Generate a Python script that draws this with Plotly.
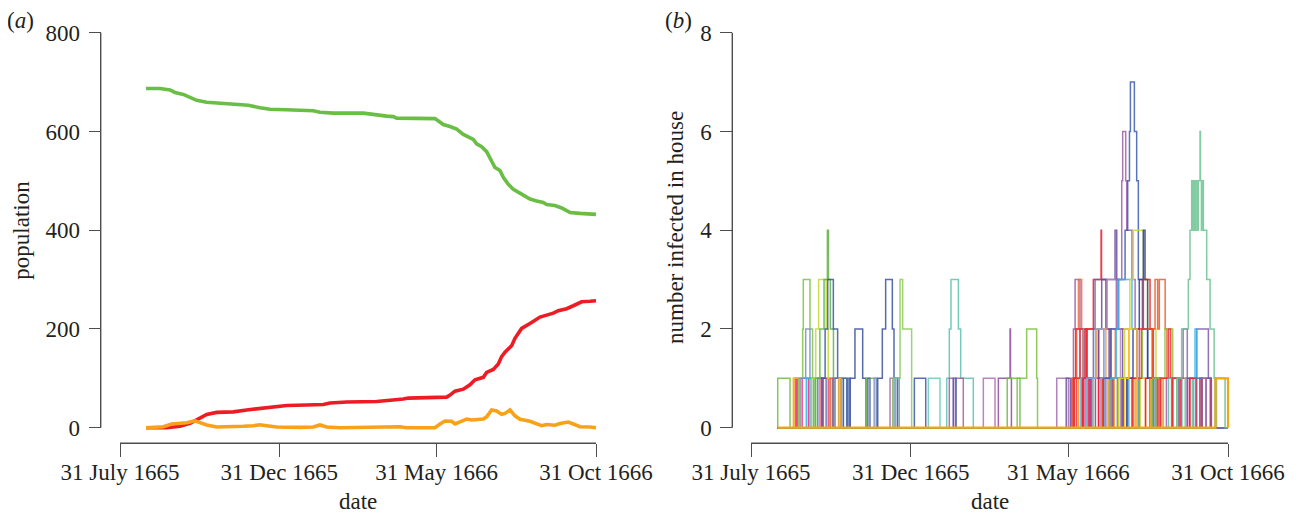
import datetime as dt
import plotly.graph_objects as go

# day 0 = 31 July 1665
ORIGIN = dt.datetime(1665, 7, 31)

tick_days = [0, 153, 304, 457]
tick_labels = ["31 July 1665", "31 Dec 1665", "31 May 1666", "31 Oct 1666"]

# (a) population curves (days since 31 July 1665)
susceptible_day = [25, 38.4, 48, 52.8, 60.8, 67.2, 73.6, 83.2, 92.8, 102.4, 115.2, 123.2, 134.4, 144,
                   160, 179.2, 185.6, 192, 204.8, 233.6, 240, 256, 262.4, 265.6, 302.4, 305.6, 310.4,
                   316.8, 323.2, 329.6, 334.4, 339.2, 342.4, 347.2, 352, 356.8, 360, 364.8, 368, 372.8,
                   377.6, 385.6, 393.6, 400, 406.4, 409.6, 417.6, 424, 432, 441.6, 451.2, 457]
susceptible_pop = [687, 687, 684, 679, 675, 669, 663, 659, 658, 656, 654, 653, 648, 645,
                   644, 643, 642, 639, 637, 637, 635, 631, 630, 627, 626, 622, 614,
                   610, 605, 594, 588, 584, 575, 569, 559, 539, 527, 521, 507, 493,
                   483, 473, 463, 459, 456, 452, 450, 445, 436, 434, 432, 432]

removed_day = [25, 44.8, 57.6, 67.2, 73.6, 83.2, 92.8, 108.8, 121.6, 134.4, 147.2, 160, 179.2, 195.2,
               201.6, 217.6, 246.4, 259.2, 272, 276.8, 313.6, 316.8, 321.6, 329.6, 336, 340.8, 348.8,
               352, 358.4, 363.2, 366.4, 369.6, 376, 379.2, 385.6, 393.6, 403.2, 409.6, 416, 420.8,
               428.8, 435.2, 443.2, 451.2, 457]
removed_pop = [0, 0, 3, 9, 16, 27, 31, 32, 36, 39, 43, 45, 46, 47,
               50, 52, 53, 55, 58, 60, 62, 66, 74, 78, 87, 97, 102,
               112, 118, 129, 144, 153, 166, 181, 201, 211, 224, 228, 232, 237,
               241, 247, 255, 256, 257]

infected_day = [25, 41.6, 49.6, 57.6, 64, 72, 76.8, 83.2, 92.8, 108.8, 118.4, 128, 134.4, 140.8,
                150.4, 172.8, 185.6, 192, 198.4, 211.2, 233.6, 243.2, 252.8, 262.4, 268.8, 275.2,
                302.4, 307.2, 312, 318.4, 321.6, 326.4, 332.8, 337.6, 342.4, 348.8, 352, 356.8,
                361.6, 366.4, 369.6, 374.4, 379.2, 384, 393.6, 400, 404.8, 409.6, 417.6, 422.4,
                430.4, 435.2, 441.6, 451.2, 457]
infected_pop = [0, 2, 7.5, 9, 10, 14, 10, 5.5, 1.4, 1.4, 2.8, 4, 6, 4,
                1.4, 0.7, 1.4, 5.5, 1.4, 0, 0.7, 2.8, 2, 3.4, 2, 0,
                0, 7.5, 13.6, 13, 7.5, 12, 17.6, 15.6, 17, 17.6, 22, 36,
                34, 27, 29, 36, 24, 17, 13, 8, 4, 6.5, 5, 8.5,
                11.5, 7.5, 2, 1.4, 0]

# (b) number infected in each house: change days and counts (step lines)
house_start = 25.6
house_end = 457
house_days = [
    [25.6, 37.4], [40.6, 42.2], [43.1, 44.4], [41, 47], [49, 55], [53, 60],
    [45.4, 49.5, 50.1, 56.5, 59, 61.3], [47, 52.4, 56.5, 58], [56.5, 67.7], [66.1, 69.3],
    [64, 72], [69, 74], [78, 84], [86, 92],
    [58, 62, 64.8, 72, 74, 76], [62, 66, 70, 73.2, 74.2, 76, 79], [68, 71, 73.5, 78.9, 83, 86],
    [75.7, 78.9], [80.5, 88.5], [84, 86], [88.5, 91.7, 93, 94.9], [94.9, 99.6, 107, 110.2],
    [110.8, 120.4], [112, 114], [118, 120], [121.4, 125.8, 129, 135.4, 137, 140.2],
    [133.2, 136, 138, 142], [136, 142.8, 145.3, 153.9], [138, 142], [156.5, 167.4],
    [169.9, 181.1], [187.5, 190, 191.6, 198.7, 200.9, 213], [190, 193.9, 196, 203.4],
    [193.9, 196.5], [222.6, 233.8], [237, 248.2, 248.6, 249.5], [245.5, 257.7],
    [255, 264.1, 273.7, 274.5],
    [292.9, 304.1], [302, 306], [307.3, 308.9, 310.5, 315.2, 316.8],
    [310, 318], [314, 322], [323, 333], [327, 336], [333, 344], [337, 347], [343, 352],
    [347, 357], [351, 361], [355, 366], [362, 371], [368, 378], [373, 383], [378, 388],
    [384, 393], [389, 398], [395, 404], [403, 413], [411, 420], [416, 423], [432, 440],
    [436, 441], [318, 322, 333, 337], [344, 349, 362, 366], [371, 375, 384, 388],
    [308, 312, 313.7, 316.8, 318], [308.9, 311, 321.6, 324], [312, 315.2, 318.4, 325],
    [316, 318.4, 320, 322], [318, 320, 328, 335.4, 335.8, 340, 345],
    [325, 328, 329.6, 340.8, 343, 346], [330, 333, 336, 348.8, 350.4, 352, 356],
    [335, 338, 341, 352, 354], [320, 326], [328, 331, 340, 344], [322, 330, 338], [342, 348],
    [340, 345, 350, 355.2, 356.1, 359, 360, 365, 368, 372],
    [338, 344, 352, 358.4, 360.9, 362.6, 363.5, 367.3, 369.5, 371.1, 375, 380, 386],
    [345, 350, 352, 365, 370, 372], [352, 358, 363, 366.3, 375.9, 380, 388, 395],
    [360, 366, 372, 375.9, 377.5, 380, 385], [365, 370, 375.9, 382.3, 385, 390],
    [370, 374, 385.5, 392], [358, 362, 370],
    [382, 385, 387.1, 389.6, 391.2, 396.8, 398.5, 403], [385, 396.6, 404, 408],
    [392, 400, 402, 410], [400, 410], [404, 412], [410, 414, 418],
    [408, 412.6, 419, 420.6, 422.2, 423.5, 424.2, 425, 426, 427.5, 428.5, 430.2, 430.6, 431.5,
     432.5, 433.4, 436.6, 439.8, 443.7, 446],
    [418, 427, 438.2, 441], [424, 425.4, 427, 430], [420.6, 427, 430.2, 432], [430, 436],
    [426, 432], [444.6, 454.2], [445, 457],
]
house_counts = [
    [1, 0], [1, 0], [1, 0], [1, 0], [1, 0], [1, 0],
    [1, 2, 3, 2, 1, 0], [1, 2, 1, 0], [1, 0], [1, 0],
    [1, 0], [1, 0], [1, 0], [1, 0],
    [1, 2, 3, 2, 1, 0], [1, 2, 3, 4, 3, 2, 0], [1, 2, 3, 2, 1, 0],
    [1, 0], [1, 0], [1, 0], [1, 0, 1, 0], [1, 2, 1, 0],
    [1, 0], [1, 0], [1, 0], [1, 2, 3, 2, 1, 0],
    [1, 0, 1, 0], [1, 3, 2, 0], [1, 0], [1, 0],
    [1, 0], [1, 2, 3, 2, 1, 0], [1, 0, 1, 0],
    [1, 0], [1, 0], [1, 2, 1, 0], [1, 0],
    [1, 2, 1, 0],
    [1, 0], [1, 0], [1, 2, 3, 1, 0],
    [1, 0], [1, 0], [1, 0], [1, 0], [1, 0], [1, 0], [1, 0],
    [1, 0], [1, 0], [1, 0], [1, 0], [1, 0], [1, 0], [1, 0],
    [1, 0], [1, 0], [1, 0], [1, 0], [1, 0], [1, 0], [1, 0],
    [1, 0], [1, 2, 1, 0], [1, 2, 1, 0], [1, 2, 1, 0],
    [1, 2, 3, 2, 0], [1, 2, 1, 0], [1, 2, 1, 0],
    [1, 2, 1, 0], [1, 2, 3, 4, 3, 2, 0],
    [1, 2, 3, 2, 1, 0], [1, 2, 3, 4, 3, 2, 0],
    [1, 2, 3, 2, 0], [1, 0], [1, 2, 1, 0], [1, 2, 0], [1, 0],
    [1, 2, 3, 5, 6, 5, 4, 3, 2, 0],
    [1, 2, 3, 4, 5, 6, 7, 6, 5, 3, 2, 1, 0],
    [1, 2, 3, 2, 1, 0], [1, 2, 3, 4, 3, 2, 1, 0],
    [1, 2, 3, 4, 3, 1, 0], [1, 2, 3, 2, 1, 0],
    [1, 2, 1, 0], [1, 2, 0],
    [1, 2, 3, 2, 3, 2, 1, 0], [1, 2, 1, 0],
    [1, 2, 1, 0], [1, 0], [1, 0], [1, 2, 0],
    [1, 2, 3, 4, 5, 4, 5, 4, 5, 4, 5, 6, 5, 4, 5, 4, 3, 2, 1, 0],
    [1, 2, 1, 0], [1, 2, 1, 0], [1, 0, 1, 0], [1, 0],
    [1, 0], [1, 0], [1, 0],
]
house_colors = [
    "#6dbe45", "#f7941d", "#ec2a7b", "#f8b133", "#ee2a7b", "#29b6e8",
    "#7cc242", "#7b8fc7", "#29b6e8", "#ef4a60",
    "#5c6db4", "#ef4a60", "#4863ae", "#6ec14a",
    "#c6d82f", "#5db346", "#3d54a3",
    "#ef4a60", "#5a6fb8", "#f8b133", "#4863ae", "#3b4fa0",
    "#6ec14a", "#4b5fab", "#8090c8", "#3c52a2",
    "#a866ad", "#8ccc5a", "#5fc4b4", "#3c56a5",
    "#6fcab9", "#5ec3b1", "#a65ca8",
    "#4b62ad", "#b26fb3", "#8e4b9e", "#6dbe45",
    "#7cc242",
    "#a470b0", "#6e4f9f", "#9c5aa6",
    "#ed1c24", "#f7941d", "#ee2a7b", "#41b6e6", "#ed1c24", "#fcb316", "#8dc63f",
    "#ed1c24", "#6d6e9f", "#ef4136", "#4fb4e0", "#f7941d", "#d7df23", "#ec1c24",
    "#62bb8d", "#a15ca6", "#ec1c24", "#74c7b8", "#ee2a7b", "#6dc391", "#ed1c24",
    "#7b5ba6", "#ee3124", "#f26d3d", "#8cc63f",
    "#f26d3d", "#ed1c24", "#ee2f3a",
    "#55b8e6", "#ec1c2a",
    "#7b5ba6", "#6a4c9c",
    "#b08bbf", "#ec297b", "#f79a3d", "#6db3e0", "#f7941d",
    "#a45ea8",
    "#3d5eb0",
    "#3fb7e9", "#c9da2a",
    "#2e3f95", "#ec1c24",
    "#ef3b36", "#fcd116",
    "#f05a28", "#8cc63f",
    "#ee2f3a", "#55c0ad", "#ee2a35", "#8e63ab",
    "#6dc391",
    "#7a5aa8", "#3fb7e9", "#ed1c24", "#9e6aaf",
    "#5a76bd", "#68bd8a", "#f2a516",
]

# the page body has an 8px margin, so the figure is 8px smaller each way
OFF = 8
W, H = 1298 - OFF, 515 - OFF
FONT = "Liberation Serif"
TEXT = "#231f20"
AXIS = "#4d4d4d"


def dates(days):
    return [ORIGIN + dt.timedelta(days=d) for d in days]


def px(x):
    return (x - OFF) / W


def py(y):
    return 1 - (y - OFF) / H


fig = go.Figure()

fig.add_trace(go.Scatter(x=dates(susceptible_day), y=susceptible_pop, mode="lines",
                         line=dict(color="#6abd45", width=3.6), xaxis="x", yaxis="y"))
fig.add_trace(go.Scatter(x=dates(removed_day), y=removed_pop, mode="lines",
                         line=dict(color="#ed1c24", width=3.6), xaxis="x", yaxis="y"))
fig.add_trace(go.Scatter(x=dates(infected_day), y=infected_pop, mode="lines",
                         line=dict(color="#f9a11b", width=3.6), xaxis="x", yaxis="y"))

n = len(house_days)
for i, (days, counts, color) in enumerate(zip(house_days, house_counts, house_colors)):
    xs = [house_start] + days + [house_end]
    ys = [0] + counts + [counts[-1]]
    last = i == n - 1
    fig.add_trace(go.Scatter(x=dates(xs), y=ys, mode="lines", line_shape="hv",
                             line=dict(color=color, width=2.2 if last else 1.5),
                             opacity=1 if last else 0.85, xaxis="x2", yaxis="y2"))

tick_dates = dates(tick_days)
xcommon = dict(type="date", range=dates([0, 461]), tickvals=tick_dates, ticktext=tick_labels,
               ticks="outside", ticklen=13, tickwidth=1.4, tickcolor=AXIS, showline=False,
               showgrid=False, zeroline=False, anchor="free", position=py(443.3),
               ticklabelstandoff=-5,
               tickfont=dict(family=FONT, size=23, color=TEXT), automargin=False)
ycommon = dict(ticks="outside", ticklen=12, tickwidth=1.4, tickcolor=AXIS, showline=False,
               showgrid=False, zeroline=False, anchor="free", domain=[py(440), py(28)],
               ticklabelstandoff=4,
               tickfont=dict(family=FONT, size=23, color=TEXT), automargin=False)

fig.update_layout(
    width=W, height=H, margin=dict(l=0, r=0, t=0, b=0),
    paper_bgcolor="white", plot_bgcolor="white", showlegend=False,
    xaxis=dict(xcommon, domain=[px(120), px(120 + 461 * 476 / 457)]),
    yaxis=dict(ycommon, range=[-24.9, 809.5], tickvals=[0, 200, 400, 600, 800],
               position=px(100.7)),
    xaxis2=dict(xcommon, domain=[px(751), px(751 + 461 * 477 / 457)]),
    yaxis2=dict(ycommon, range=[-0.249, 8.095], tickvals=[0, 2, 4, 6, 8],
                position=px(732.3)),
)

# range-frame axis lines
line = dict(color=AXIS, width=1.4)
fig.add_shape(type="line", xref="x", yref="paper", x0=tick_dates[0], x1=tick_dates[-1],
              y0=py(443.3), y1=py(443.3), line=line)
fig.add_shape(type="line", xref="paper", yref="y", x0=px(100.7), x1=px(100.7),
              y0=0, y1=800, line=line)
fig.add_shape(type="line", xref="x2", yref="paper", x0=tick_dates[0], x1=tick_dates[-1],
              y0=py(443.3), y1=py(443.3), line=line)
fig.add_shape(type="line", xref="paper", yref="y2", x0=px(732.3), x1=px(732.3),
              y0=0, y1=8, line=line)

labels = [
    ("(<i>a</i>)", 20.5, 20.7, 0),
    ("(<i>b</i>)", 678, 20.7, 0),
    ("population", 20.7, 230, -90),
    ("date", 358, 501.7, 0),
    ("number infected in house", 675, 228, -90),
    ("date", 989.5, 501.7, 0),
]
for text, x, y, ang in labels:
    fig.add_annotation(text=text, x=px(x), y=py(y), xref="paper", yref="paper",
                       showarrow=False, textangle=ang, xanchor="center", yanchor="middle",
                       font=dict(family=FONT, size=23, color=TEXT))

fig.write_html("out.html")
